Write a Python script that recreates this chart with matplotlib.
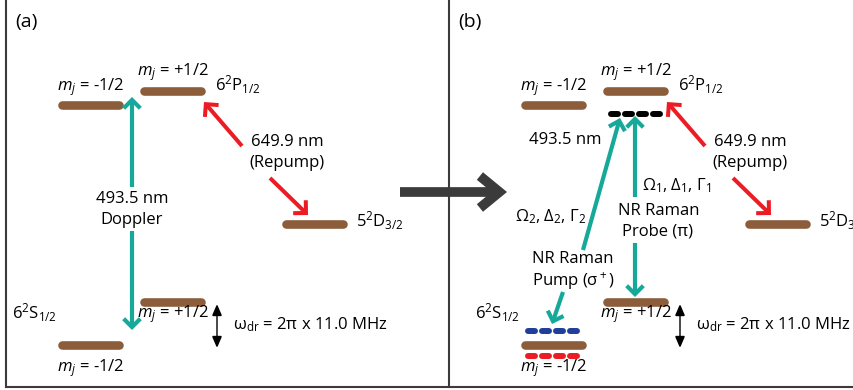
import numpy as np
import matplotlib
matplotlib.use('Agg')
import matplotlib.pyplot as plt
from matplotlib.patches import FancyArrowPatch

plt.rcParams['font.family'] = ['Open Sans', 'DejaVu Sans']
plt.rcParams['mathtext.fontset'] = 'custom'
plt.rcParams['mathtext.rm'] = 'Open Sans'
plt.rcParams['mathtext.it'] = 'Open Sans:italic'
plt.rcParams['mathtext.sf'] = 'Open Sans'

BROWN = '#8b5d3b'
TEAL = '#16a99a'
RED = '#ec1c24'
BLUE = '#1f3f9a'
DARK = '#3b3b3b'
FS = 12

# energy levels of panel (a), pixel coords (panel (b) is shifted right)
level_names = ['P-1/2', 'P+1/2', 'D3/2', 'S+1/2', 'S-1/2']
level_left = [58, 140, 282, 140, 58]
level_y = [105, 91, 224, 302, 345]
level_len = 65
panel_shift = [0, 463]
panel_tags = ['(a)', '(b)']

# m_j labels: (text, level index, y of label)
mj_labels = ['$m_j$ = -1/2', '$m_j$ = +1/2', '$m_j$ = +1/2', '$m_j$ = -1/2']
mj_level = [0, 1, 3, 4]
mj_y = [87, 72, 314, 368]

# virtual / shifted levels in panel (b): (left x, y, colour)
dash_left = [608, 525, 525]
dash_y = [114, 331, 356]
dash_color = ['black', BLUE, RED]


def draw_level(ax, x0, y):
    ax.plot([x0 + 4, x0 + level_len - 4], [y, y], color=BROWN, lw=6.2,
            solid_capstyle='round', zorder=3)


def draw_dashes(ax, x0, y, color, n=4, length=56):
    edges = np.linspace(x0, x0 + length, n + 1)
    for a, b in zip(edges[:-1], edges[1:]):
        ax.plot([a + 3, b - 4], [y, y], color=color, lw=4.3,
                solid_capstyle='round', zorder=3)


def arrow(ax, p0, p1, color, lw=3.0, style='->,head_length=6,head_width=6'):
    ax.add_patch(FancyArrowPatch(p0, p1, arrowstyle=style, color=color, lw=lw,
                                 shrinkA=0, shrinkB=0, mutation_scale=1,
                                 joinstyle='miter', capstyle='butt', zorder=4))


fig = plt.figure(figsize=(8.54, 3.9), dpi=100)
ax = fig.add_axes([0, 0, 1, 1])
ax.set_xlim(0, 854)
ax.set_ylim(390, 0)
ax.axis('off')

# frame
ax.plot([6, 6], [0, 387], color=DARK, lw=1.5)
ax.plot([449, 449], [0, 387], color=DARK, lw=1.5)
ax.plot([6, 854], [387, 387], color=DARK, lw=1.5)

for k, dx in enumerate(panel_shift):
    ax.text(15 + dx * 443 / 463, 22, panel_tags[k], fontsize=14, ha='left', va='center')
    for x0, y in zip(level_left, level_y):
        draw_level(ax, x0 + dx, y)
    for t, i, y in zip(mj_labels, mj_level, mj_y):
        ax.text(level_left[i] + dx + level_len / 2, y, t, fontsize=FS,
                ha='center', va='center')
    ax.text(215 + dx, 85, '6$^2$P$_{1/2}$', fontsize=FS, ha='left', va='center')
    ax.text(12 + dx, 313, '6$^2$S$_{1/2}$', fontsize=FS, ha='left', va='center')
    ax.text(356 + dx, 221, '5$^2$D$_{3/2}$', fontsize=FS, ha='left', va='center')
    ax.text(233 + dx, 325, 'ω$_\\mathrm{dr}$ = 2π x 11.0 MHz', fontsize=FS,
            ha='left', va='center')
    # Zeeman splitting marker
    arrow(ax, (217 + dx, 326), (217 + dx, 304), 'black', lw=1.0,
          style='-|>,head_length=7,head_width=3')
    arrow(ax, (217 + dx, 326), (217 + dx, 348), 'black', lw=1.0,
          style='-|>,head_length=7,head_width=3')
    # repump
    arrow(ax, (242 + dx, 146), (204 + dx, 102), RED, lw=2.9,
          style='->,head_length=6.5,head_width=6.5')
    arrow(ax, (270 + dx, 178), (308 + dx, 215), RED, lw=2.9,
          style='->,head_length=6.5,head_width=6.5')
    ax.text(287 + dx, 142, '649.9 nm', fontsize=FS, ha='center', va='center')
    ax.text(287 + dx, 163, '(Repump)', fontsize=FS, ha='center', va='center')

# panel (a): Doppler cooling
arrow(ax, (132, 187), (132, 97), TEAL)
arrow(ax, (132, 231), (132, 330), TEAL)
ax.text(132, 199, '493.5 nm', fontsize=FS, ha='center', va='center')
ax.text(132, 220, 'Doppler', fontsize=FS, ha='center', va='center')

# big transition arrow between panels
arrow(ax, (400, 192), (507, 192), DARK, lw=7.0,
      style='->,head_length=14,head_width=11.5')

# panel (b): NR Raman beams
for x0, y, c in zip(dash_left, dash_y, dash_color):
    draw_dashes(ax, x0, y, c)
arrow(ax, (635, 197), (635, 116), TEAL)
arrow(ax, (635, 243), (635, 297), TEAL)
arrow(ax, (583, 250), (620, 118), TEAL)
arrow(ax, (563, 292), (552, 324), TEAL)
ax.text(565, 140, '493.5 nm', fontsize=FS, ha='center', va='center')
ax.text(642, 186, 'Ω$_1$, Δ$_1$, Γ$_1$', fontsize=FS, ha='left', va='center')
ax.text(659, 211, 'NR Raman', fontsize=FS, ha='center', va='center')
ax.text(658, 232, 'Probe (π)', fontsize=FS, ha='center', va='center')
ax.text(515, 217, 'Ω$_2$, Δ$_2$, Γ$_2$', fontsize=FS, ha='left', va='center')
ax.text(573, 259, 'NR Raman', fontsize=FS, ha='center', va='center')
ax.text(573, 281, 'Pump (σ$^+$)', fontsize=FS, ha='center', va='center')

fig.savefig('out.png', dpi=100)
